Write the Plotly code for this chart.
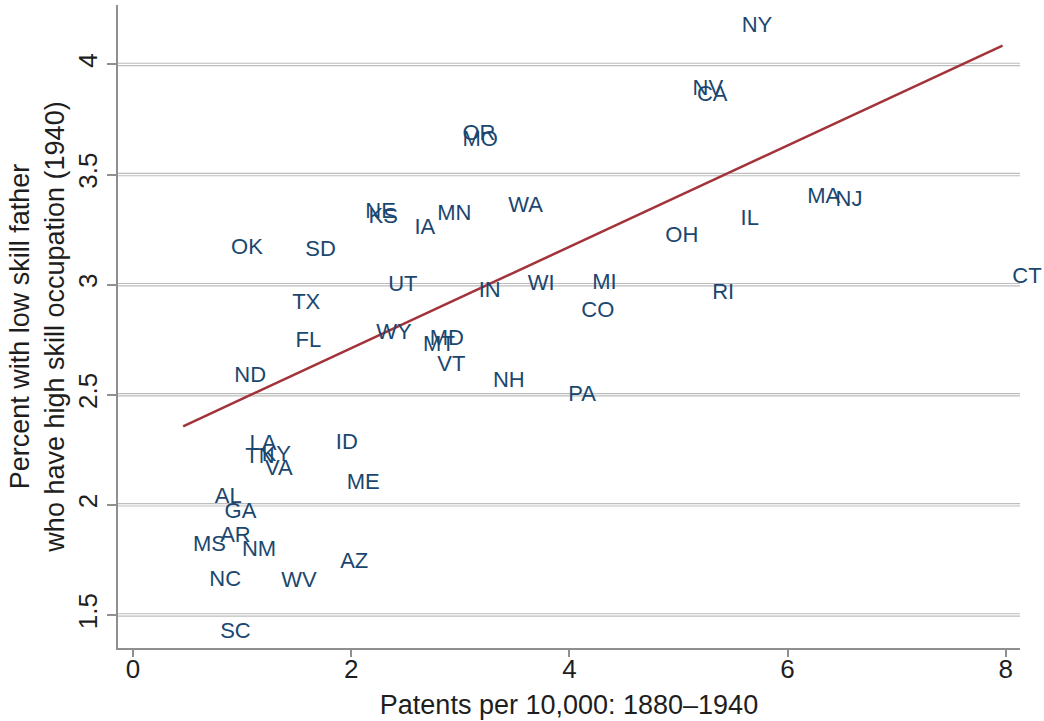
import numpy as np
import plotly.graph_objects as go

# State-level data: patents per 10,000 residents (1880-1940) vs. share of
# sons of low-skill fathers in high-skill occupations (1940)
states = ["NY", "NV", "CA", "OR", "MO", "NE", "KS", "IA", "MN", "WA",
          "OK", "SD", "UT", "IN", "WI", "MI", "CO", "TX", "FL", "WY",
          "MD", "MT", "VT", "NH", "PA", "OH", "IL", "MA", "NJ", "RI",
          "CT", "ND", "ID", "ME", "LA", "TN", "KY", "VA", "AL", "GA",
          "MS", "AR", "NM", "NC", "WV", "AZ", "SC"]
patents = [5.49, 5.04, 5.08, 2.93, 2.93, 2.04, 2.07, 2.49, 2.70, 3.35,
           0.81, 1.49, 2.25, 3.08, 3.53, 4.12, 4.02, 1.37, 1.40, 2.14,
           2.63, 2.57, 2.70, 3.21, 3.90, 4.79, 5.48, 6.09, 6.35, 5.22,
           7.97, 0.84, 1.77, 1.87, 0.98, 0.94, 1.09, 1.12, 0.66, 0.75,
           0.46, 0.71, 0.91, 0.61, 1.27, 1.81, 0.71]
pct_high_skill = [4.173, 3.887, 3.860, 3.682, 3.655, 3.327, 3.305, 3.255, 3.319, 3.355,
                  3.164, 3.155, 2.996, 2.969, 3.001, 3.005, 2.878, 2.914, 2.742, 2.778,
                  2.751, 2.723, 2.632, 2.560, 2.496, 3.219, 3.296, 3.396, 3.382, 2.960,
                  3.032, 2.582, 2.278, 2.096, 2.273, 2.214, 2.223, 2.160, 2.032, 1.964,
                  1.814, 1.855, 1.792, 1.655, 1.651, 1.737, 1.419]

# Weighted linear fit coefficients (intercept, slope)
fit_intercept = 2.251
fit_slope = 0.2302

x_ticks = [0, 2, 4, 6, 8]
y_ticks = [1.5, 2, 2.5, 3, 3.5, 4]

FONT = "Liberation Sans, Arial, sans-serif"
AXIS_GREY = "#8f8f8f"
LABEL_BLUE = "#1a476f"
FIT_RED = "#a3333a"
TEXT = "#1e1e1e"

# Fitted line over the observed range of patents
fit_x = np.array([min(patents), max(patents)])
fit_y = fit_intercept + fit_slope * fit_x

fig = go.Figure()

# Horizontal gridlines drawn as a grey band with a white core
for yv in y_ticks:
    fig.add_shape(type="line", xref="paper", yref="y", x0=0, x1=1, y0=yv, y1=yv,
                  line=dict(color="#bdbdbd", width=3.5), layer="below")
    fig.add_shape(type="line", xref="paper", yref="y", x0=0, x1=1, y0=yv, y1=yv,
                  line=dict(color="#ffffff", width=1.2), layer="below")

fig.add_trace(go.Scatter(
    x=fit_x, y=fit_y, mode="lines",
    line=dict(color=FIT_RED, width=2.5),
    hoverinfo="skip", showlegend=False,
))

fig.add_trace(go.Scatter(
    x=patents, y=pct_high_skill, mode="markers+text",
    text=states, textposition="middle right",
    marker=dict(size=14, opacity=0),
    textfont=dict(family=FONT, size=22, color=LABEL_BLUE),
    cliponaxis=False,
    showlegend=False,
))

fig.update_layout(
    width=1044, height=721,
    margin=dict(l=118, r=24, t=5, b=73),
    paper_bgcolor="white", plot_bgcolor="white",
    font=dict(family=FONT, color=TEXT),
)

fig.update_xaxes(
    range=[-0.137, 8.13], tickvals=x_ticks,
    showgrid=False, zeroline=False,
    showline=True, linecolor=AXIS_GREY, linewidth=2,
    ticks="outside", ticklen=7, tickwidth=2, tickcolor=AXIS_GREY,
    ticklabelstandoff=-10,
    tickfont=dict(family=FONT, size=26, color=TEXT),
    title=dict(text="Patents per 10,000: 1880\u20131940",
               font=dict(family=FONT, size=27, color=TEXT), standoff=12),
)

fig.update_yaxes(
    range=[1.35, 4.27], tickvals=y_ticks, ticktext=[str(v) for v in y_ticks],
    tickangle=-90,
    showgrid=False, zeroline=False,
    showline=True, linecolor=AXIS_GREY, linewidth=2,
    ticks="outside", ticklen=9, tickwidth=2, tickcolor=AXIS_GREY,
    tickfont=dict(family=FONT, size=26, color=TEXT),
    title=dict(text="Percent with low skill father<br>who have high skill occupation (1940)",
               font=dict(family=FONT, size=27, color=TEXT), standoff=0),
)

fig.write_html("out.html")
